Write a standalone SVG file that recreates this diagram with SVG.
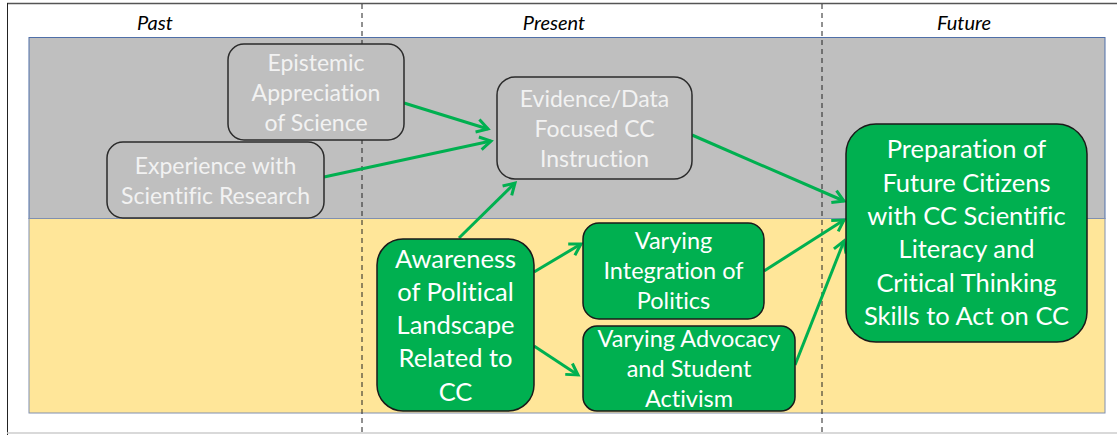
<svg xmlns="http://www.w3.org/2000/svg" width="1117" height="435" viewBox="0 0 1117 435">
<style>
text{font-variant-ligatures:none}
.hdr{font-family:Lato,"Liberation Sans",sans-serif;font-style:italic;font-size:20px;fill:#000;text-anchor:middle}
.gn{fill:#BFBFBF;stroke:#2b2b2b;stroke-width:1.5}
.gt{font-family:Lato,"Liberation Sans",sans-serif;font-size:23px;fill:#F2F2F2;text-anchor:middle}
.nn{fill:#00B050;stroke:#1a1a1a;stroke-width:1.5}
.nt{font-family:Lato,"Liberation Sans",sans-serif;font-size:23.5px;fill:#fff;text-anchor:middle}
.nt2{font-family:Lato,"Liberation Sans",sans-serif;font-size:25.5px;fill:#fff;text-anchor:middle}
.cn{stroke:#00B050;stroke-width:3;fill:none;marker-end:url(#ah)}
.dl{stroke:#222;stroke-width:1;stroke-dasharray:5,4}
</style>
<defs>
<marker id="ah" markerUnits="userSpaceOnUse" markerWidth="20" markerHeight="20" refX="14" refY="8" orient="auto">
<path d="M3,1.5 L14,8 L3,14.5" fill="none" stroke="#00B050" stroke-width="3"/>
</marker>
</defs>
<rect x="0" y="0" width="1117" height="435" fill="#fff"/>
<line x1="7" y1="3.5" x2="1117" y2="3.5" stroke="#555" stroke-width="1.5"/>
<line x1="7.5" y1="3" x2="7.5" y2="435" stroke="#222" stroke-width="1"/>
<line x1="7" y1="433" x2="1117" y2="433" stroke="#ccc" stroke-width="1.5"/>
<g id="bands">
<rect x="29" y="37.5" width="1076" height="181" fill="#BFBFBF" stroke="#4f6fa8" stroke-width="1"/>
<rect x="29" y="218.5" width="1076" height="194.5" fill="#FFE699" stroke="#8090b0" stroke-width="1"/>
</g>
<g id="timelines">
<line class="dl" x1="362" y1="4" x2="362" y2="435"/>
<line class="dl" x1="822" y1="4" x2="822" y2="435"/>
<text class="hdr" x="155" y="30">Past</text>
<text class="hdr" x="554" y="30">Present</text>
<text class="hdr" x="964" y="30">Future</text>
</g>
<g id="connectors">
<line class="cn" x1="404" y1="103" x2="488" y2="129"/>
<line class="cn" x1="324" y1="177" x2="491" y2="141"/>
<line class="cn" x1="459" y1="238" x2="515" y2="183"/>
<line class="cn" x1="692" y1="135" x2="844" y2="201"/>
<line class="cn" x1="534" y1="272" x2="581" y2="244"/>
<line class="cn" x1="534" y1="346" x2="578" y2="375"/>
<line class="cn" x1="764" y1="271" x2="844" y2="220"/>
<line class="cn" x1="795" y1="365" x2="844" y2="241"/>
</g>
<g id="epistemic">
<rect class="gn" x="228" y="44" width="176" height="96" rx="16"/>
<text class="gt" x="316" y="71">Epistemic</text>
<text class="gt" x="316" y="101">Appreciation</text>
<text class="gt" x="316" y="131">of Science</text>
</g>
<g id="experience">
<rect class="gn" x="107" y="142" width="217" height="76" rx="16"/>
<text class="gt" x="215.5" y="174">Experience with</text>
<text class="gt" x="215.5" y="204">Scientific Research</text>
</g>
<g id="evidence">
<rect class="gn" x="497" y="77" width="195" height="102" rx="18"/>
<text class="gt" x="594.5" y="107">Evidence/Data</text>
<text class="gt" x="594.5" y="137">Focused CC</text>
<text class="gt" x="594.5" y="167">Instruction</text>
</g>
<g id="awareness">
<rect class="nn" x="377" y="239" width="157" height="172" rx="26"/>
<text class="nt2" x="455.5" y="268">Awareness</text>
<text class="nt2" x="455.5" y="301">of Political</text>
<text class="nt2" x="455.5" y="334">Landscape</text>
<text class="nt2" x="455.5" y="367">Related to</text>
<text class="nt2" x="455.5" y="401">CC</text>
</g>
<g id="integration">
<rect class="nn" x="583" y="223" width="181" height="96" rx="16"/>
<text class="nt" x="673.5" y="249">Varying</text>
<text class="nt" x="673.5" y="279">Integration of</text>
<text class="nt" x="673.5" y="309">Politics</text>
</g>
<g id="advocacy">
<rect class="nn" x="583" y="326" width="212" height="85" rx="14"/>
<text class="nt" x="689" y="347">Varying Advocacy</text>
<text class="nt" x="689" y="377">and Student</text>
<text class="nt" x="689" y="407">Activism</text>
</g>
<g id="preparation">
<rect class="nn" x="846" y="124" width="241" height="218" rx="30"/>
<text class="nt2" x="966.5" y="158">Preparation of</text>
<text class="nt2" x="966.5" y="192">Future Citizens</text>
<text class="nt2" x="966.5" y="225">with CC Scientific</text>
<text class="nt2" x="966.5" y="258">Literacy and</text>
<text class="nt2" x="966.5" y="292">Critical Thinking</text>
<text class="nt2" x="966.5" y="325">Skills to Act on CC</text>
</g>
</svg>
